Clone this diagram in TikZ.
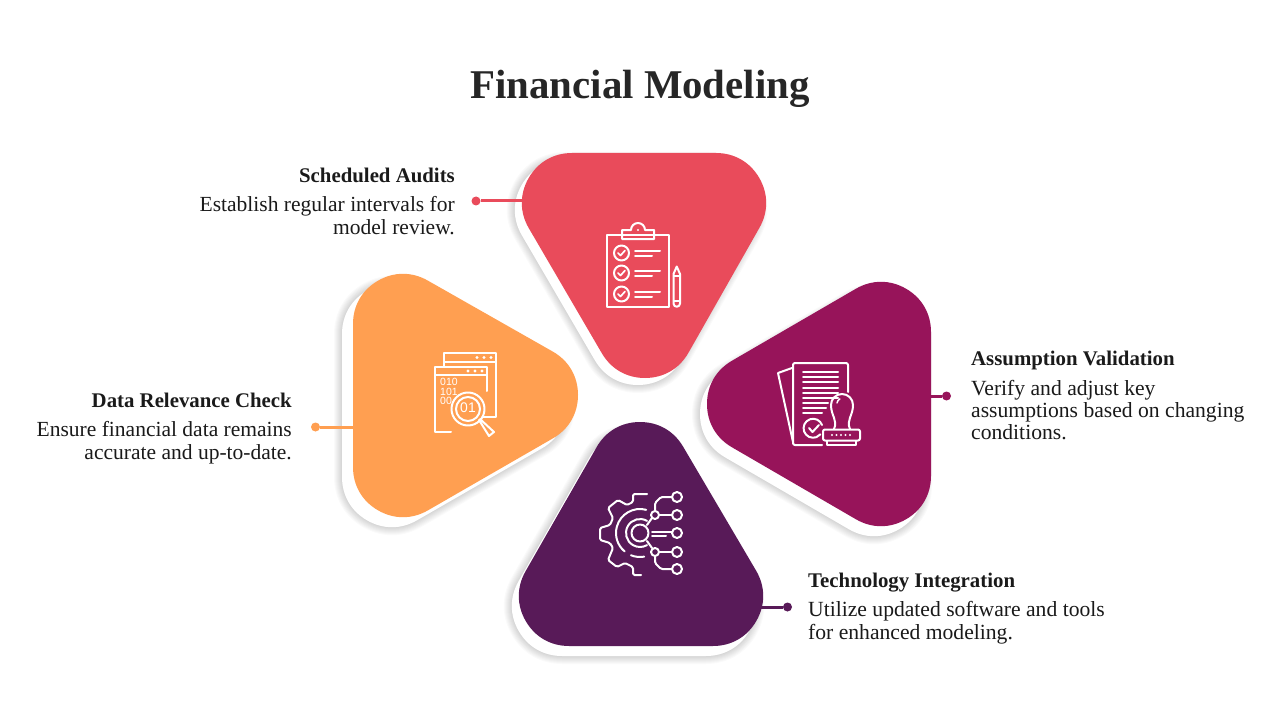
\documentclass[tikz,border=0pt]{standalone}
\usepackage{fontspec}
\setmainfont{Liberation Serif}
\newfontfamily\iconfont{Liberation Sans}
\definecolor{cred}{HTML}{E94B5B}
\definecolor{corange}{HTML}{FF9F51}
\definecolor{cmag}{HTML}{97145A}
\definecolor{cdark}{HTML}{581A58}
\definecolor{ctitle}{HTML}{262626}
\definecolor{ctext}{HTML}{1A1A1A}
\tikzset{
  x=1bp,y=-1bp,
  blob/.style={line width=100bp,line join=round},
  halo/.style={line join=round,draw=black,draw opacity=.02},
  dotn/.style={circle,inner sep=0pt,minimum size=9bp},
  conn/.style={line width=3bp},
  titletext/.style={font=\fontsize{41}{46}\selectfont\bfseries,text=ctitle,inner sep=0pt,anchor=base},
  headr/.style={font=\fontsize{20.9}{24}\selectfont\bfseries,text=ctext,inner sep=0pt,anchor=base east},
  headl/.style={font=\fontsize{20.9}{24}\selectfont\bfseries,text=ctext,inner sep=0pt,anchor=base west},
  bodyr/.style={font=\fontsize{21.6}{22.3}\selectfont,text=ctext,inner sep=0pt,anchor=north east,align=right},
  bodyl/.style={font=\fontsize{21.7}{22.3}\selectfont,text=ctext,inner sep=0pt,anchor=north west,align=left},
  ic/.style={draw=white,line width=2bp,line cap=round,line join=round},
  digits/.style={font=\iconfont\fontsize{10.5}{10.5}\selectfont,text=white,inner sep=0pt}
}
\newcommand{\shadowblob}[3]{%
  \begin{scope}[shift={(#2,#3)}]
  \foreach \w in {116,114,112,110,108,106,104,102}{
    \draw[halo,line width=\w bp] #1 -- cycle;}
  \draw[blob,draw=white,fill=white] #1 -- cycle;
  \end{scope}}
\begin{document}
\begin{tikzpicture}
\useasboundingbox (0,0) rectangle (1280,720);
\fill[white] (0,0) rectangle (1280,720);
\node[titletext] (title) at (640,99) {Financial Modeling};

% blob outlines
\def\pa{(572,203) -- (716,203) -- (645,328)}
\def\pb{(403,324) -- (528,395) -- (403,467)}
\def\pc{(881,332) -- (881,476) -- (757,404)}
\def\pd{(640,472) -- (713,596) -- (569,596)}
\shadowblob{\pa}{-7}{7}
\shadowblob{\pb}{-11}{10}
\shadowblob{\pc}{-7}{10}
\shadowblob{\pd}{-7}{10}

% connectors
\node[dotn,fill=cred] (d1) at (476,201) {};
\coordinate (t1) at (540,201);
\draw[conn,cred] (d1) -- (t1);
\node[dotn,fill=corange] (d2) at (315.5,427) {};
\coordinate (t2) at (370,427);
\draw[conn,corange] (d2) -- (t2);
\node[dotn,fill=cmag] (d3) at (946.5,396) {};
\coordinate (t3) at (910,396);
\draw[conn,cmag] (d3) -- (t3);
\node[dotn,fill=cdark] (d4) at (787.5,607) {};
\coordinate (t4) at (740,607);
\draw[conn,cdark] (d4) -- (t4);

% blobs
\draw[blob,draw=cred,fill=cred] \pa -- cycle;
\draw[blob,draw=corange,fill=corange] \pb -- cycle;
\draw[blob,draw=cmag,fill=cmag] \pc -- cycle;
\draw[blob,draw=cdark,fill=cdark] \pd -- cycle;

% icon 1: clipboard
\draw[ic] (607,235) rectangle (669,307);
\draw[ic] (622,239) -- (622,230) -- (631,230) arc (180:360:7) -- (654,230) -- (654,239) -- cycle;
\fill[white] (638,230) circle (1.2);
\foreach \y in {253,273,294}{
  \draw[ic] (621.5,\y) circle (7.5);
  \draw[ic,line width=1.7bp] (618,\y) -- (620.5,\y+2.5) -- (625,\y-2.5);
  \draw[ic] (635,\y-2) -- (660,\y-2);
  \draw[ic] (635,\y+3) -- (652,\y+3);
}
\draw[ic] (673.5,274) -- (676.75,266.5) -- (680,274) -- (680,303.5) arc (0:180:3.25) -- cycle;
\draw[ic,line width=1.5bp] (673.5,276) -- (680,276);
\draw[ic,line width=1.5bp] (673.5,301) -- (680,301);

% icon 2: windows with magnifier
\draw[ic] (444,366) -- (444,353) -- (496,353) -- (496,417) -- (483,417);
\draw[ic] (444,362) -- (496,362);
\foreach \x in {477,484,491}{\fill[white] (\x,357.5) circle (1.6);}
\draw[ic] (451,431.5) -- (435,431.5) -- (435,367) -- (487,367) -- (487,391);
\draw[ic] (435,375) -- (487,375);
\foreach \x in {468,475,482}{\fill[white] (\x,371) circle (1.6);}
\node[digits,anchor=west] (b1) at (440,381.5) {010};
\node[digits,anchor=west] (b2) at (440,391.5) {101};
\node[digits,anchor=west] (b3) at (440,400.5) {00};
\fill[corange] (468,409) circle (17);
\draw[ic] (468,409) circle (16.5);
\draw[ic] (468,409) circle (12);
\node[digits,font=\iconfont\fontsize{14}{14}\selectfont] (b4) at (468,407.5) {01};
\draw[ic] (479,420) -- (489,436) -- (494,432) -- (480,419);

% icon 3: documents and stamp
\draw[ic] (792,368) -- (778,373) -- (793,442);
\draw[ic,rounded corners=2bp] (848,392) -- (848,363) -- (793,363) -- (793,445) -- (822,445);
\foreach \y in {372,377,382,388,393,398}{\draw[ic] (803,\y) -- (838,\y);}
\draw[ic] (803,403) -- (828,403);
\draw[ic] (803,408) -- (826,408);
\draw[ic] (803,413) -- (822,413);
\draw[ic] (822,425) arc (-20:-320:9.5);
\draw[ic] (809,428) -- (812.5,432) -- (819,425);
\draw[ic] (834,429) .. controls (838,420) and (831,416) .. (831,405) arc (180:360:11) .. controls (853,416) and (846,420) .. (850,429);
\draw[ic,line width=1.5bp] (837,403) arc (190:240:6);
\draw[ic,rounded corners=2bp] (823,429.5) -- (860,429.5) -- (860,440.5) -- (823,440.5) -- cycle;
\draw[ic] (827,441) -- (827,445) -- (856,445) -- (856,441);
\foreach \x in {832,836.5,841,845.5,850}{\fill[white] (\x,435) circle (1.2);}

% icon 4: gear circuit
\draw[ic] (640,533) circle (8.5);
\draw[ic] (640,533) ++(285:24) arc (285:130:24);
\draw[ic] (640,533) ++(112:24) arc (112:80:24);
\draw[ic] (640,533) ++(300:14) arc (300:60:14);
\draw[ic,rounded corners=1.5bp] (647,494) -- (633,494) -- (633,502) -- (627,505) -- (618,500) -- (608,508) -- (613,518)
  -- (610,525) -- (600,528) -- (600,540) -- (610,543) -- (613,548) -- (608,560)
  -- (617,567) -- (625,563) -- (633,567) -- (633,575) -- (641,575);
\draw[ic] (647,525) -- (652,518);
\draw[ic] (647,541) -- (652,548);
\foreach \y in {497,515,533,552,569}{\draw[ic] (677,\y) circle (5);}
\draw[ic] (655,515) circle (4);
\draw[ic] (655,552) circle (4);
\draw[ic,rounded corners=1.5bp] (672,497) -- (661,497) -- (655,503) -- (655,511);
\draw[ic,rounded corners=1.5bp] (672,569) -- (661,569) -- (655,563) -- (655,556);
\draw[ic] (659,515) -- (672,515);
\draw[ic] (659,552) -- (672,552);
\draw[ic] (652,531.5) -- (672,531.5);
\draw[ic] (652,535.5) -- (666,535.5);

% text
\node[headr] (h1) at (455,182.5) {Scheduled Audits};
\node[bodyr] (p1) at (455,196.5) {Establish regular intervals for\\model review.};
\node[headr] (h2) at (292,407.5) {Data Relevance Check};
\node[bodyr] (p2) at (292,421.5) {Ensure financial data remains\\accurate and up-to-date.};
\node[headl] (h3) at (971,365.5) {Assumption Validation};
\node[bodyl] (p3) at (971,380) {Verify and adjust key\\assumptions based on changing\\conditions.};
\node[headl] (h4) at (808,587.5) {Technology Integration};
\node[bodyl] (p4) at (808,601.5) {Utilize updated software and tools\\for enhanced modeling.};
\end{tikzpicture}
\end{document}
